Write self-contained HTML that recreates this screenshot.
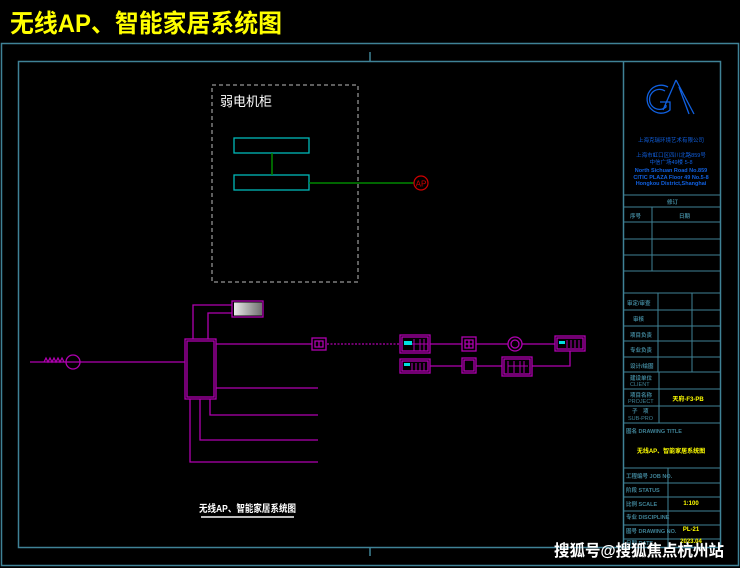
<!DOCTYPE html>
<html><head><meta charset="utf-8"><style>
html,body{margin:0;padding:0;background:#000;}
svg{display:block}
text{font-family:"Liberation Sans","Noto Sans CJK SC",sans-serif;}
</style></head><body>
<svg width="740" height="568" viewBox="0 0 740 568" xmlns="http://www.w3.org/2000/svg">
<defs><linearGradient id="g" x1="0" x2="1"><stop offset="0" stop-color="#e8e8e8"/><stop offset="1" stop-color="#707070"/></linearGradient></defs>
<rect width="740" height="568" fill="#000"/>
<text x="10" y="32" font-size="25" font-weight="bold" fill="#ffff00" font-family="Liberation Sans,'Noto Sans CJK SC',sans-serif" textLength="272" lengthAdjust="spacingAndGlyphs">无线AP、智能家居系统图</text>
<g stroke="#3f8296" fill="none" stroke-width="1.5">
<rect x="1.5" y="43.5" width="737" height="522"/>
<rect x="18.5" y="61.5" width="702" height="486"/>
<line x1="370" y1="52" x2="370" y2="61"/>
<line x1="370" y1="547" x2="370" y2="556"/>
<line x1="623.5" y1="61" x2="623.5" y2="547"/>
</g>
<g stroke="#3f8296" stroke-width="1" fill="none">
<line x1="623" y1="195" x2="720" y2="195"/><line x1="623" y1="207" x2="720" y2="207"/>
<line x1="623" y1="222" x2="720" y2="222"/><line x1="623" y1="239" x2="720" y2="239"/>
<line x1="623" y1="255" x2="720" y2="255"/><line x1="623" y1="271" x2="720" y2="271"/>
<line x1="652" y1="207" x2="652" y2="271"/>
<line x1="623" y1="293" x2="720" y2="293"/><line x1="623" y1="310" x2="720" y2="310"/>
<line x1="623" y1="326" x2="720" y2="326"/><line x1="623" y1="341" x2="720" y2="341"/>
<line x1="623" y1="357" x2="720" y2="357"/><line x1="623" y1="372" x2="720" y2="372"/>
<line x1="658" y1="293" x2="658" y2="372"/><line x1="692" y1="293" x2="692" y2="372"/>
<line x1="623" y1="389" x2="720" y2="389"/><line x1="623" y1="406" x2="720" y2="406"/>
<line x1="623" y1="423" x2="720" y2="423"/><line x1="659" y1="372" x2="659" y2="423"/>
<line x1="623" y1="468" x2="720" y2="468"/><line x1="623" y1="483" x2="720" y2="483"/>
<line x1="623" y1="497" x2="720" y2="497"/><line x1="623" y1="511" x2="720" y2="511"/>
<line x1="623" y1="525" x2="720" y2="525"/><line x1="623" y1="539" x2="720" y2="539"/>
<line x1="668" y1="468" x2="668" y2="547"/>
</g>
<!-- logo -->
<g stroke="#1060e0" fill="none" stroke-width="1.3">
<path d="M668 87 A14 14 0 1 0 670 110 L670 102 L660 102"/>
<path d="M665 91 A10 10 0 1 0 666 107 L666 105"/>
<path d="M676 80 L663 110 M676 80 L694 114 M679 87 L689 114"/>
</g>
<g fill="#1060e0" font-size="5.5" text-anchor="middle">
<text x="671" y="142">上海克瑞环境艺术有限公司</text>
<text x="671" y="157">上海市虹口区四川北路859号</text>
<text x="671" y="164">中信广场49楼 5-8</text>
<text x="671" y="172" font-weight="bold">North Sichuan Road No.859</text>
<text x="671" y="179" font-weight="bold">CITIC PLAZA Floor 49 No.5-8</text>
<text x="671" y="185" font-weight="bold">Hongkou District,Shanghai</text>
</g>
<g fill="#3f8296" font-size="5.5" font-weight="bold">
<text x="667" y="204">修订</text><text x="630" y="218">序号</text><text x="679" y="218">日期</text>
<text x="627" y="305">审定/审查</text><text x="633" y="321">审核</text><text x="630" y="337">项目负责</text>
<text x="630" y="352">专业负责</text><text x="630" y="368">设计/绘图</text>
<text x="630" y="380">建设单位</text><text x="630" y="386" font-weight="normal">CLIENT</text>
<text x="630" y="397">项目名称</text><text x="628" y="403" font-weight="normal">PROJECT</text>
<text x="632" y="413">子　项</text><text x="628" y="420" font-weight="normal">SUB-PRO</text>
<text x="626" y="433">图名 DRAWING TITLE</text>
<text x="626" y="478">工程编号 JOB NO.</text><text x="626" y="492">阶段 STATUS</text>
<text x="626" y="506">比例 SCALE</text><text x="626" y="519">专业 DISCIPLINE</text>
<text x="626" y="533">图号 DRAWING NO.</text><text x="626" y="545">日期 DATE</text>
</g>
<g fill="#ffff00" font-size="6" font-weight="bold" text-anchor="middle">
<text x="688" y="401">天府-F3-PB</text>
<text x="671" y="453">无线AP、智能家居系统图</text>
<text x="691" y="505">1:100</text>
<text x="691" y="531">PL-21</text>
<text x="691" y="543">2023.04</text>
</g>
<!-- cabinet -->
<rect x="212" y="85" width="146" height="197" fill="none" stroke="#bbb" stroke-width="1" stroke-dasharray="4,3"/>
<text x="220" y="106" font-size="13" fill="#fff">弱电机柜</text>
<g stroke="#00b8b8" fill="none" stroke-width="1.3"><rect x="234" y="138" width="75" height="15"/><rect x="234" y="175" width="75" height="15"/></g>
<g stroke="#008800" stroke-width="1.5"><line x1="272" y1="153" x2="272" y2="175"/><line x1="309" y1="183" x2="414" y2="183"/></g>
<circle cx="421" cy="183" r="7" fill="none" stroke="#d00000" stroke-width="1.2"/>
<text x="421" y="186.5" font-size="8" fill="#d00000" text-anchor="middle">AP</text>
<!-- magenta system -->
<g stroke="#b000b0" fill="none" stroke-width="1.3">
<rect x="185" y="339" width="31" height="60"/><rect x="187" y="341" width="27" height="56"/>
<rect x="232" y="301" width="31" height="16"/>
<path d="M193 339 V305 H232 M208 339 V313 H232"/>
<line x1="30" y1="362" x2="185" y2="362"/>
<circle cx="73" cy="362" r="7"/>
<line x1="216" y1="344" x2="312" y2="344"/>
<line x1="216" y1="388" x2="318" y2="388"/>
<path d="M210 399 V415 H318 M200 399 V440 H318 M190 399 V462 H318"/>
<rect x="312" y="338" width="14" height="12"/><path d="M315 341 h8 v6 h-8z M319 341 v6"/>
<line x1="327" y1="344" x2="400" y2="344" stroke-dasharray="2,1.5"/>
<rect x="400" y="335" width="30" height="18"/><rect x="402" y="337" width="26" height="14"/>
<path d="M430 344 H462 M476 344 H508 M522 344 H555"/>
<rect x="462" y="337" width="14" height="14"/><path d="M465 340 h8 v8 h-8z M469 340 v8 M465 344 h8"/>
<circle cx="515" cy="344" r="7"/><circle cx="515" cy="344" r="4"/>
<rect x="555" y="336" width="30" height="15"/><rect x="557" y="338" width="26" height="11"/>
<rect x="400" y="359" width="30" height="14"/><rect x="402" y="361" width="26" height="10"/>
<path d="M430 366 H462 M476 366 H502 M532 366 H570 V351"/>
<rect x="462" y="358" width="14" height="15"/><rect x="464" y="360" width="10" height="11"/>
<rect x="502" y="357" width="30" height="19"/><rect x="504" y="359" width="26" height="15"/>
</g>
<path d="M44 362 l2 -4 l2 4 l2 -4 l2 4 l2 -4 l2 4 l2 -4 l2 4 l2 -4 l2 4" stroke="#b000b0" fill="none" stroke-width="1.2"/>
<rect x="234" y="302.5" width="28" height="13" fill="url(#g)"/>
<g fill="#00e0e0"><rect x="404" y="341" width="8" height="4"/><rect x="404" y="363" width="6" height="3"/><rect x="559" y="341" width="6" height="3"/></g>
<g stroke="#b000b0" stroke-width="1"><path d="M414 339 v12 M420 339 v12 M424 339 v12 M412 344 h16 M412 363 v8 M416 363 v8 M420 363 v8 M424 363 v8 M567 340 v8 M571 340 v8 M575 340 v8 M579 340 v8 M508 361 v12 M514 361 v12 M520 361 v12 M524 361 v12 M508 366 h20"/></g>
<text x="199" y="512" font-size="10" fill="#fff" font-weight="bold" textLength="97" lengthAdjust="spacingAndGlyphs">无线AP、智能家居系统图</text>
<line x1="201" y1="517" x2="294" y2="517" stroke="#bbb" stroke-width="2"/>
<text x="554" y="556" font-size="16" fill="#fff" font-weight="bold" textLength="170" lengthAdjust="spacingAndGlyphs">搜狐号@搜狐焦点杭州站</text>
</svg>
</body></html>
